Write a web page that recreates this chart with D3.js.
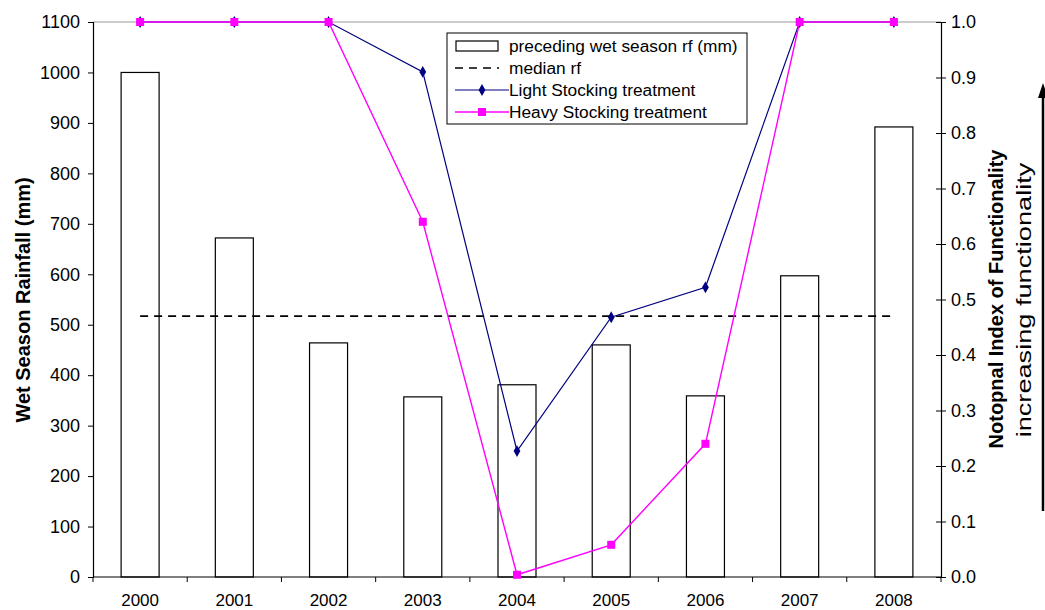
<!DOCTYPE html>
<html>
<head>
<meta charset="utf-8">
<script src="https://cdn.jsdelivr.net/npm/d3@7"></script>
<style>
  body { margin: 0; background: #fff; }
  svg { display: block; font-family: "Liberation Sans", Arial, sans-serif; }
</style>
</head>
<body>
<svg id="chart" width="1045" height="610"></svg>
<script>
// Years on the category axis
const years = ["2000", "2001", "2002", "2003", "2004", "2005", "2006", "2007", "2008"];
// Preceding wet season rainfall (mm)
const rainfall = [1000, 672, 464, 357, 381, 460, 359, 597, 892];
// Median rainfall (mm)
const medianRf = 517;
// Notopnal index of functionality per stocking treatment
const lightStocking = [1.0, 1.0, 1.0, 0.91, 0.227, 0.468, 0.522, 1.0, 1.0];
const heavyStocking = [1.0, 1.0, 1.0, 0.64, 0.004, 0.058, 0.24, 1.0, 1.0];
// Axis ticks
const leftTicks = [0, 100, 200, 300, 400, 500, 600, 700, 800, 900, 1000, 1100];
const rightTicks = [0, 0.1, 0.2, 0.3, 0.4, 0.5, 0.6, 0.7, 0.8, 0.9, 1.0];

const svg = d3.select("#chart");
const L = 93, R = 941, T = 22, B = 577;

const x = d3.scaleBand().domain(years).range([L, R]);
const yL = d3.scaleLinear().domain([0, 1100]).range([B, T]);
const yR = d3.scaleLinear().domain([0, 1]).range([B, T]);

// top border of plot area
svg.append("line").attr("x1", L).attr("x2", R).attr("y1", T).attr("y2", T)
  .attr("stroke", "#999").attr("stroke-width", 1);

// rainfall bars
const barW = 38;
svg.append("g").selectAll("rect").data(years).join("rect")
  .attr("x", d => x(d) + x.bandwidth() / 2 - barW / 2)
  .attr("y", (d, i) => yL(rainfall[i]))
  .attr("width", barW)
  .attr("height", (d, i) => B - yL(rainfall[i]))
  .attr("fill", "#fff").attr("stroke", "#000").attr("stroke-width", 1.2);

// median rainfall dashed line
const cx = d => x(d) + x.bandwidth() / 2;
svg.append("line")
  .attr("x1", cx(years[0])).attr("x2", cx(years[years.length - 1]))
  .attr("y1", yL(medianRf)).attr("y2", yL(medianRf))
  .attr("stroke", "#000").attr("stroke-width", 1.6).attr("stroke-dasharray", "8,6");

// left axis
const axL = svg.append("g").attr("transform", `translate(${L},0)`)
  .call(d3.axisLeft(yL).tickValues(leftTicks).tickSize(5).tickPadding(8).tickFormat(d3.format("d")));
// right axis
const axR = svg.append("g").attr("transform", `translate(${R},0)`)
  .call(d3.axisRight(yR).tickValues(rightTicks).tickSize(5).tickPadding(5).tickFormat(d3.format(".1f")));
axR.selectAll(".tick line").attr("x1", -5);
// bottom axis: ticks between categories
const axB = svg.append("g").attr("transform", `translate(0,${B})`)
  .call(d3.axisBottom(x).tickSize(0).tickPadding(17));
axB.selectAll(".tick").append("line")
  .attr("x1", x.bandwidth() / 2).attr("x2", x.bandwidth() / 2)
  .attr("y1", 0).attr("y2", 5).attr("stroke", "#000");
axB.append("line").attr("x1", L).attr("x2", L)
  .attr("y1", 0).attr("y2", 5).attr("stroke", "#000");

[[axL, 18], [axR, 18], [axB, 17]].forEach(([a, fs]) => {
  a.select(".domain").attr("stroke", "#000").attr("stroke-width", 1.2);
  a.selectAll("text").attr("font-size", fs).attr("fill", "#000")
    .attr("font-family", "Liberation Sans, Arial, sans-serif");
  a.selectAll(".tick line").attr("stroke", "#000");
});
axB.select(".domain").attr("d", `M${L},0H${R}`);

// treatment lines
const line = arr => d3.line().x((d, i) => cx(years[i])).y(d => yR(d))(arr);
svg.append("path").attr("d", line(lightStocking))
  .attr("fill", "none").attr("stroke", "#000080").attr("stroke-width", 1.2);
svg.append("path").attr("d", line(heavyStocking))
  .attr("fill", "none").attr("stroke", "#ff00ff").attr("stroke-width", 1.4);

const diamond = d3.symbol().type(d3.symbolDiamond).size(40);
svg.append("g").selectAll("path").data(lightStocking).join("path")
  .attr("d", diamond)
  .attr("transform", (d, i) => `translate(${cx(years[i])},${yR(d)})`)
  .attr("fill", "#000080");
svg.append("g").selectAll("rect").data(heavyStocking).join("rect")
  .attr("x", (d, i) => cx(years[i]) - 4).attr("y", d => yR(d) - 4)
  .attr("width", 8).attr("height", 8).attr("fill", "#ff00ff");

// legend
const lg = svg.append("g").attr("transform", "translate(447,33)");
lg.append("rect").attr("width", 300).attr("height", 91)
  .attr("fill", "#fff").attr("stroke", "#000").attr("stroke-width", 1);
const rowY = [13, 35, 57, 79];
const labels = ["preceding wet season rf (mm)", "median rf", "Light Stocking treatment", "Heavy Stocking treatment"];
lg.append("rect").attr("x", 9).attr("y", rowY[0] - 5).attr("width", 42).attr("height", 10)
  .attr("fill", "#fff").attr("stroke", "#000").attr("stroke-width", 1.2);
lg.append("line").attr("x1", 8).attr("x2", 52).attr("y1", rowY[1]).attr("y2", rowY[1])
  .attr("stroke", "#000").attr("stroke-width", 1.6).attr("stroke-dasharray", "8,6");
lg.append("line").attr("x1", 8).attr("x2", 62).attr("y1", rowY[2]).attr("y2", rowY[2])
  .attr("stroke", "#000080").attr("stroke-width", 1.2);
lg.append("path").attr("d", diamond).attr("transform", `translate(35,${rowY[2]})`).attr("fill", "#000080");
lg.append("line").attr("x1", 8).attr("x2", 62).attr("y1", rowY[3]).attr("y2", rowY[3])
  .attr("stroke", "#ff00ff").attr("stroke-width", 1.4);
lg.append("rect").attr("x", 31).attr("y", rowY[3] - 4).attr("width", 8).attr("height", 8).attr("fill", "#ff00ff");
lg.selectAll("text.lab").data(labels).join("text").attr("class", "lab")
  .attr("x", 62).attr("y", (d, i) => rowY[i]).attr("dy", "0.35em")
  .attr("font-size", 17.3).text(d => d);

// axis titles
svg.append("text").attr("transform", "translate(30,300) rotate(-90)")
  .attr("text-anchor", "middle").attr("font-size", 20).attr("font-weight", "bold")
  .text("Wet Season Rainfall (mm)");
svg.append("text").attr("transform", "translate(1003,299) rotate(-90)")
  .attr("text-anchor", "middle").attr("font-size", 20).attr("font-weight", "bold")
  .text("Notopnal Index of Functionality");
// caption beside the arrow, stretched along its length
const cap = svg.append("text").attr("text-anchor", "middle").attr("font-size", 21)
  .text("increasing functionality");
const stretch = 275 / cap.node().getComputedTextLength();
cap.attr("transform", `translate(1031,300) rotate(-90) scale(${stretch},1)`);

// arrow of increasing functionality
svg.append("line").attr("x1", 1043).attr("x2", 1043).attr("y1", 511).attr("y2", 95)
  .attr("stroke", "#000").attr("stroke-width", 2.5);
svg.append("path").attr("d", "M1043,83 L1038,98 L1048,98 Z").attr("fill", "#000");
</script>
</body>
</html>
